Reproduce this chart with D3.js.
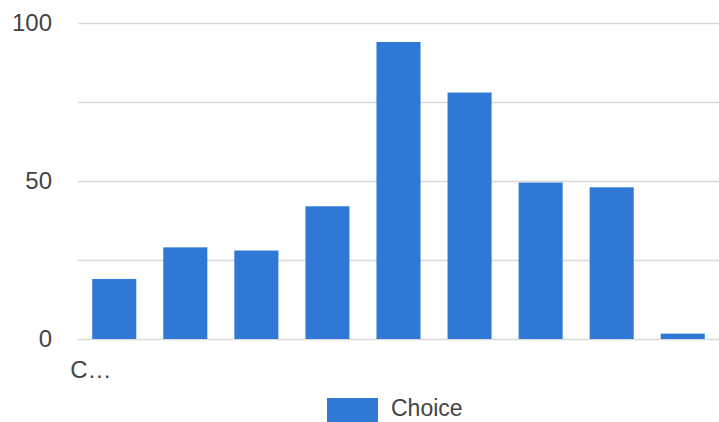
<!DOCTYPE html>
<html>
<head>
<meta charset="utf-8">
<script src="https://cdn.jsdelivr.net/npm/d3@7"></script>
<style>
  html, body { margin: 0; padding: 0; background: #fff; overflow: hidden; }
  svg { display: block; font-family: Arial, "Liberation Sans", sans-serif; }
</style>
</head>
<body>
<svg id="chart" width="719" height="422"></svg>
<script>
// Data
const categories = ["C1", "C2", "C3", "C4", "C5", "C6", "C7", "C8", "C9"];
const tickLabels = ["C\u2026", "", "", "", "", "", "", "", ""];
const values = [19, 29, 28, 42, 94, 78, 49.5, 48, 1.7];
const yTicks = [0, 50, 100];
const gridTicks = [0, 25, 50, 75, 100];
const seriesName = "Choice";

const BAR_COLOR = "#2f78d6";
const GRID_COLOR = "#d9d9d9";
const TEXT_COLOR = "#444";

const svg = d3.select("#chart");
const margin = { top: 23, right: 0, bottom: 83, left: 78 };
const width = 719, height = 422;

// Scales
const x = d3.scaleBand()
  .domain(categories)
  .range([margin.left, width - margin.right])
  .paddingInner(0.38)
  .paddingOuter(0.2);

const y = d3.scaleLinear()
  .domain([0, 100])
  .range([height - margin.bottom, margin.top]);

// Gridlines
svg.append("g")
  .selectAll("line")
  .data(gridTicks)
  .join("line")
  .attr("x1", margin.left)
  .attr("x2", width - margin.right)
  .attr("y1", (d) => Math.round(y(d)) + 0.5)
  .attr("y2", (d) => Math.round(y(d)) + 0.5)
  .attr("stroke", GRID_COLOR)
  .attr("stroke-width", 1.5);

// Y axis labels
const axisY = d3.axisLeft(y).tickValues(yTicks).tickSize(0).tickPadding(26);
svg.append("g")
  .attr("transform", `translate(${margin.left}, 0)`)
  .call(axisY)
  .call((g) => g.select(".domain").remove())
  .selectAll("text")
  .attr("fill", TEXT_COLOR)
  .attr("font-size", 24)
  .attr("font-family", "Arial, 'Liberation Sans', sans-serif");

// Bars
svg.append("g")
  .selectAll("rect")
  .data(values)
  .join("rect")
  .attr("x", (d, i) => x(categories[i]))
  .attr("width", x.bandwidth())
  .attr("y", (d) => y(d))
  .attr("height", (d) => y(0) - y(d))
  .attr("fill", BAR_COLOR);

// X tick labels (truncated like the source)
svg.append("g")
  .selectAll("text")
  .data(tickLabels)
  .join("text")
  .attr("x", (d, i) => x(categories[i]) - 22)
  .attr("y", y(0) + 39)
  .attr("fill", TEXT_COLOR)
  .attr("font-size", 24)
  .text((d) => d);

// Legend
const legend = svg.append("g").attr("transform", "translate(327, 398)");
legend.append("rect")
  .attr("width", 51)
  .attr("height", 30)
  .attr("fill", BAR_COLOR);
legend.append("text")
  .attr("x", 64)
  .attr("y", 18)
  .attr("fill", TEXT_COLOR)
  .attr("font-size", 23)
  .text(seriesName);
</script>
</body>
</html>
